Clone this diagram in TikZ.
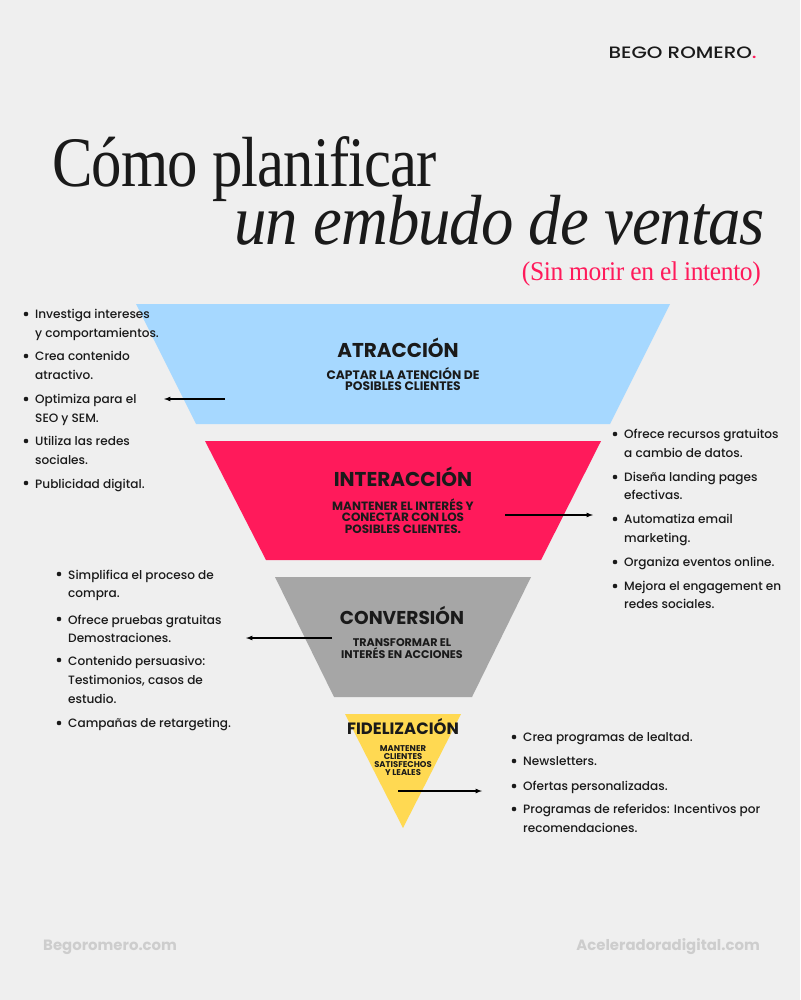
\documentclass[tikz,border=0pt]{standalone}
\usepackage{fontspec}
\setsansfont{Poppins}
\newfontfamily\titlefont[LetterSpace=-1.5]{Liberation Serif}
\newfontfamily\mediumfont{Poppins Medium}
\usetikzlibrary{arrows}
\usetikzlibrary{positioning}
\definecolor{paper}{HTML}{EFEFEF}
\definecolor{ink}{HTML}{1A1A1A}
\definecolor{skyband}{HTML}{A6D8FF}
\definecolor{pinkband}{HTML}{FF1A5B}
\definecolor{grayband}{HTML}{A6A6A6}
\definecolor{yellowband}{HTML}{FFD952}
\definecolor{softgray}{HTML}{CDCDCD}
\tikzset{
	item/.style={anchor=base west,inner sep=0,text=ink,font=\mediumfont\fontsize{12.1}{14}\selectfont},
	stage/.style={inner sep=0,text=ink,font=\sffamily\bfseries\fontsize{20}{22}\selectfont},
	goal/.style={inner sep=0,align=center,text=ink,font=\sffamily\bfseries\fontsize{12}{11.6}\selectfont},
	foot/.style={inner sep=0,text=softgray,font=\sffamily\bfseries\fontsize{14.9}{16}\selectfont},
	pointer/.style={-latex,line width=1.2pt,black}
}
\begin{document}
\begin{tikzpicture}[x=1pt,y=-1pt]
	\fill[paper] (0,0) rectangle (800,1000);
	\useasboundingbox (0,0) rectangle (800,1000);
	
	% funnel
	\fill[skyband] (136,304) -- (670,304) -- (610,424) -- (196,424) -- cycle;
	\fill[pinkband] (205,441) -- (601,441) -- (541,560) -- (266,560) -- cycle;
	\fill[grayband] (275,577) -- (531,577) -- (472,697) -- (334,697) -- cycle;
	\fill[yellowband] (345,714) -- (461,714) -- (403,828) -- cycle;
	
	% header
	\node[inner sep=0,anchor=east,text=ink,font=\mediumfont\fontsize{16.5}{18}\selectfont,xscale=1.205] (brand) at (757,52.5) {BEGO ROMERO\textcolor{pinkband}{.}};
	\node[inner sep=0,anchor=base west,text=ink,font=\titlefont\fontsize{71}{71}\selectfont,xscale=.855] (title1) at (52,187) {Cómo planificar};
	\node[inner sep=0,anchor=base east,text=ink,font=\titlefont\itshape\fontsize{71}{71}\selectfont,xscale=.912] (title2) at (765,244) {un embudo de ventas};
	\node[inner sep=0,anchor=base east,text=pinkband,font=\titlefont\fontsize{27}{27}\selectfont,xscale=.945] (title3) at (761,280) {(Sin morir en el intento)};
	
	% stages
	\node[stage] (s1) at (398,348) {ATRACCIÓN};
	\node[goal,font=\sffamily\bfseries\fontsize{12.3}{11.6}\selectfont] (g1) at (403,379) {CAPTAR LA ATENCIÓN DE\\POSIBLES CLIENTES};
	\node[stage] (s2) at (403,477) {INTERACCIÓN};
	\node[goal] (g2) at (403,516) {MANTENER EL INTERÉS Y\\CONECTAR CON LOS\\POSIBLES CLIENTES.};
	\node[stage,font=\sffamily\bfseries\fontsize{18.6}{20}\selectfont] (s3) at (402,615) {CONVERSIÓN};
	\node[goal,font=\sffamily\bfseries\fontsize{11.1}{11.6}\selectfont] (g3) at (402,648.5) {TRANSFORMAR EL\\INTERÉS EN ACCIONES};
	\node[stage,font=\sffamily\bfseries\fontsize{16.4}{18}\selectfont] (s4) at (403,727) {FIDELIZACIÓN};
	\node[goal,font=\sffamily\bfseries\fontsize{8.4}{8}\selectfont] (g4) at (403,761) {MANTENER\\CLIENTES\\SATISFECHOS\\Y LEALES};
	
	% lists
	\foreach \tx/\ty/\lbl [count=\i] in 
	{35/318/Investiga intereses, 35/337/y comportamientos., 35/360/Crea contenido, 35/379/atractivo., 35/403/Optimiza para el, 35/422/SEO y SEM., 35/445/Utiliza las redes, 35/464/sociales., 35/488/Publicidad digital.,
	624/438/Ofrece recursos gratuitos, 624/457/a cambio de datos., 624/481/Diseña landing pages, 624/499/efectivas., 624/523/Automatiza email, 624/542/marketing., 624/566/Organiza eventos online., 624/590/Mejora el engagement en, 624/608/redes sociales.,
	68/579/Simplifica el proceso de, 68/597/compra., 68/624/Ofrece pruebas gratuitas, 68/642/Demostraciones., 68/665/Contenido persuasivo:, 68/684/{Testimonios, casos de}, 68/703/estudio., 68/727/Campañas de retargeting.,
	523/741/Crea programas de lealtad., 523/765/Newsletters., 523/790/Ofertas personalizadas., 523/813/Programas de referidos: Incentivos por, 523/832/recomendaciones.}
	\node[item] (l\i) at (\tx,\ty) {\lbl};
	
	\foreach \tx/\ty in 
	{26/314, 26/356, 26/399, 26/441, 26/483,
	615/434, 615/477, 615/519, 615/562, 615/586,
	59/574, 59/619, 59/660, 59/723,
	514/737, 514/761, 514/786, 514/809}
	\fill[ink] (\tx,\ty) circle (2.3);
	
	% arrows
	\coordinate (a1) at (225,399);
	\coordinate (b1) at (164,399);
	\coordinate (a2) at (505,515);
	\coordinate (b2) at (593,515);
	\coordinate (a3) at (332,638);
	\coordinate (b3) at (246,638);
	\coordinate (a4) at (398,791);
	\coordinate (b4) at (482,791);
	\foreach \from/\to in 
	{a1/b1, a2/b2, a3/b3, a4/b4}
	\draw[pointer] (\from) -- (\to);
	
	% footer
	\node[foot,anchor=west] (f1) at (43,947) {Begoromero.com};
	\node[foot,anchor=east] (f2) at (760,947) {Aceleradoradigital.com};
\end{tikzpicture}
\end{document}
